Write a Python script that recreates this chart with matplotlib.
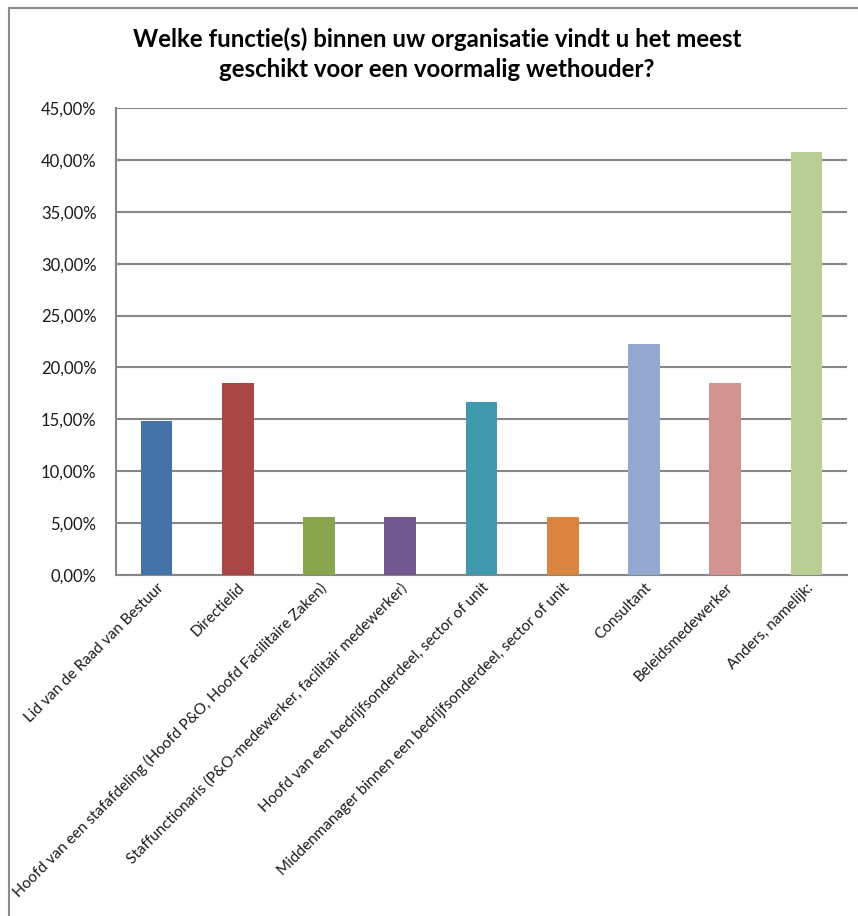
import matplotlib
matplotlib.use("Agg")
import matplotlib.pyplot as plt
from matplotlib.ticker import FuncFormatter, MultipleLocator
from matplotlib.patches import Rectangle

categories = [
    "Lid van de Raad van Bestuur",
    "Directielid",
    "Hoofd van een stafafdeling (Hoofd P&O, Hoofd Facilitaire Zaken)",
    "Staffunctionaris (P&O-medewerker, facilitair medewerker)",
    "Hoofd van een bedrijfsonderdeel, sector of unit",
    "Middenmanager binnen een bedrijfsonderdeel, sector of unit",
    "Consultant",
    "Beleidsmedewerker",
    "Anders, namelijk:",
]
values = [14.81, 18.52, 5.56, 5.56, 16.67, 5.56, 22.22, 18.52, 40.74]
colors = ["#4572A7", "#AA4643", "#89A54E", "#71588F", "#4198AF",
          "#DB843D", "#93A9CF", "#D19392", "#B9CD96"]
title = "Welke functie(s) binnen uw organisatie vindt u het meest\ngeschikt voor een voormalig wethouder?"

plt.rcParams['font.family'] = ['Lato', 'DejaVu Sans']

fig = plt.figure(figsize=(8.58, 9.16), dpi=100)
fig.patches.append(Rectangle((9/858, -0.1), 1.2, 1 - 8/916 + 0.1,
                             transform=fig.transFigure, fill=False,
                             edgecolor="#8c8c8c", linewidth=1.5))

ax = fig.add_axes([116/858, 1 - 575/916, 731/858, 467/916])
x = range(len(categories))
ax.bar(x, values, width=0.39, color=colors, zorder=3)
ax.set_xlim(-0.5, len(categories) - 0.5)
ax.set_ylim(0, 45)
ax.yaxis.set_major_locator(MultipleLocator(5))
ax.yaxis.set_major_formatter(FuncFormatter(lambda v, p: f"{v:.2f}".replace(".", ",") + "%"))
ax.grid(axis="y", color="#878787", linewidth=1.5, zorder=0)
for s in ["top", "right"]:
    ax.spines[s].set_visible(False)
for s in ["left", "bottom"]:
    ax.spines[s].set_color("#878787")
    ax.spines[s].set_linewidth(1.5)
ax.tick_params(axis="y", length=0, pad=14, labelsize=12, labelcolor="#1a1a1a")
ax.tick_params(axis="x", length=0, pad=4)
ax.set_xticks(list(x))
ax.set_xticklabels(categories, rotation=45, ha="right", rotation_mode="anchor",
                   fontsize=11, color="#1a1a1a")

fig.text(437/858, 1 - 54/916, title, ha="center", va="center",
         fontsize=17.3, fontweight="bold", linespacing=1.35)

fig.savefig("out.png", dpi=100)
